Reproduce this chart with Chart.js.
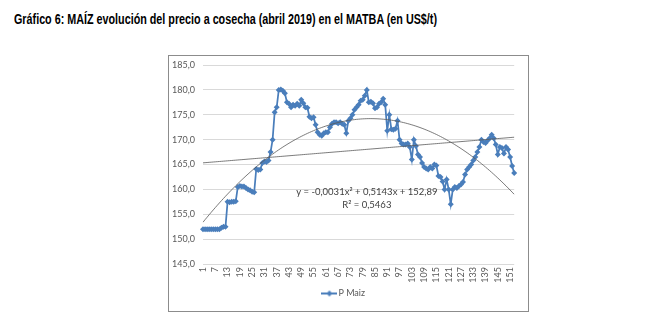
<!DOCTYPE html>
<html>
<head>
<meta charset="utf-8">
<script src="https://cdn.jsdelivr.net/npm/chart.js@4.4.1/dist/chart.umd.min.js"></script>
<style>
  body { margin: 0; background: #fff; }
  #title {
    position: absolute; left: 14px; top: 11px;
    font: bold 14px "Liberation Sans Narrow", "Liberation Sans", Arial, sans-serif;
    color: #000; white-space: nowrap; transform-origin: left top;
  }
  #box {
    position: absolute; left: 168px; top: 55px; width: 361px; height: 257px;
    border: 1px solid #8c8c8c; box-sizing: border-box; background: #fff;
  }
</style>
</head>
<body>
<div id="title">Gráfico 6: MAÍZ evolución del precio a cosecha (abril 2019) en el MATBA (en US$/t)</div>
<div id="box"><canvas id="chart"></canvas></div>
<script>
// precio diario del maiz cosecha abril 2019 (US$/t)
const precio = [
  152.0, 152.0, 152.0, 152.0, 152.0, 152.0, 152.0, 152.0, 152.0, 152.3,
  152.5, 152.5, 157.5, 157.4, 157.5, 157.5, 157.6, 160.5, 160.7, 160.6,
  160.6, 160.3, 160.0, 159.8, 159.5, 159.4, 164.1, 163.9, 164.0, 165.3,
  165.6, 165.5, 165.8, 167.5, 170.0, 175.5, 176.5, 180.0, 180.1, 179.8,
  179.3, 177.5, 177.2, 176.5, 177.0, 176.8, 177.2, 176.8, 178.0, 177.3,
  176.5, 176.4, 174.6, 174.3, 174.5, 173.0, 171.5, 171.0, 170.8, 171.3,
  171.5, 171.5, 172.5, 173.2, 173.5, 173.5, 173.3, 173.5, 173.2, 173.0,
  171.3, 173.8, 174.3, 175.0, 176.0, 176.5, 177.0, 177.8, 178.0, 178.8,
  180.0, 177.5, 177.6, 177.3, 176.3, 176.5, 177.2, 177.5, 178.2, 177.0,
  171.8, 175.0, 172.1, 172.0, 172.2, 173.8, 170.0, 169.2, 169.0, 169.0,
  169.2, 168.5, 166.0, 170.0, 168.7, 167.0, 166.5, 165.3, 164.5, 164.2,
  164.0, 164.5, 164.2, 165.0, 164.8, 162.7, 162.5, 161.6, 160.0, 162.0,
  160.0, 157.0, 160.0, 160.5, 160.3, 160.7, 161.0, 161.5, 163.0, 164.0,
  164.5, 165.0, 165.8, 166.5, 167.5, 168.5, 170.0, 169.5, 169.3, 169.8,
  170.3, 171.0, 170.3, 169.0, 167.0, 168.5, 168.3, 167.2, 168.5, 168.0,
  166.5, 164.7, 163.3
];
const dias = precio.map((_, i) => String(i + 1));

// coeficientes de la tendencia polinomica que muestra el grafico
const poly = [152.89, 0.5143, -0.0031];
const polyLabel = 'y = -0,0031x² + 0,5143x + 152,89';
const r2Label = 'R² = 0,5463';

const yMin = 145, yMax = 185, yStep = 5;

// el titulo del original es una fuente angosta: se ajusta al ancho
const title = document.getElementById('title');
title.style.transform = 'scaleX(' + (423 / title.getBoundingClientRect().width) + ')';

// tendencia lineal por minimos cuadrados
function linearFit(ys) {
  const n = ys.length;
  let sx = 0, sy = 0, sxx = 0, sxy = 0;
  ys.forEach((y, i) => {
    const x = i + 1;
    sx += x; sy += y; sxx += x * x; sxy += x * y;
  });
  const b = (n * sxy - sx * sy) / (n * sxx - sx * sx);
  const a = (sy - b * sx) / n;
  return dias.map((_, i) => a + b * (i + 1));
}

const polyTrend = dias.map((_, i) => {
  const x = i + 1;
  return poly[0] + poly[1] * x + poly[2] * x * x;
});
const linTrend = linearFit(precio);

const blue = '#4a7ebb';

// icono de leyenda: linea con rombo
const legendIcon = document.createElement('canvas');
legendIcon.width = 16; legendIcon.height = 8;
(function () {
  const c = legendIcon.getContext('2d');
  c.strokeStyle = blue; c.lineWidth = 2;
  c.beginPath(); c.moveTo(0, 4); c.lineTo(16, 4); c.stroke();
  c.fillStyle = blue;
  c.beginPath(); c.moveTo(8, 1); c.lineTo(11, 4); c.lineTo(8, 7); c.lineTo(5, 4); c.closePath(); c.fill();
})();

const trendText = {
  id: 'trendText',
  afterDatasetsDraw(chart) {
    const { ctx, scales } = chart;
    const x = scales.x.getPixelForValue(80);
    ctx.save();
    ctx.font = '9.5px Lato, sans-serif';
    ctx.fillStyle = '#404040';
    ctx.textAlign = 'center';
    ctx.textBaseline = 'middle';
    ctx.fillText(polyLabel, x, scales.y.getPixelForValue(159.4));
    ctx.fillText(r2Label, x, scales.y.getPixelForValue(156.8));
    ctx.restore();
  }
};

Chart.defaults.font.family = 'Lato, sans-serif';
Chart.defaults.color = '#595959';

new Chart(document.getElementById('chart'), {
  type: 'line',
  data: {
    labels: dias,
    datasets: [
      {
        label: 'Polinómica',
        data: polyTrend,
        borderColor: '#595959',
        borderWidth: 0.8,
        pointRadius: 0,
        order: 0
      },
      {
        label: 'Lineal',
        data: linTrend,
        borderColor: '#595959',
        borderWidth: 0.8,
        pointRadius: 0,
        order: 0
      },
      {
        label: 'P Maiz',
        data: precio,
        borderColor: blue,
        backgroundColor: blue,
        borderWidth: 1.75,
        pointStyle: 'rectRot',
        pointRadius: 3,
        pointBorderWidth: 0,
        order: 1
      }
    ]
  },
  options: {
    responsive: true,
    maintainAspectRatio: false,
    animation: false,
    layout: { padding: { top: 9, right: 7, left: 0, bottom: 3 } },
    elements: { line: { tension: 0 } },
    scales: {
      x: {
        offset: false,
        grid: { display: false, drawTicks: false },
        border: { display: false },
        afterFit: s => { s.height = 20; },
        ticks: {
          autoSkip: false,
          minRotation: 90,
          maxRotation: 90,
          padding: 3,
          font: { size: 9 },
          callback: (v, i) => (i % 6 === 0 ? dias[i] : '')
        }
      },
      y: {
        min: yMin,
        max: yMax,
        afterFit: s => { s.width = 34; s.paddingTop = 0; },
        grid: { color: '#d9d9d9', drawTicks: false },
        border: { display: false },
        ticks: {
          stepSize: yStep,
          padding: 8,
          font: { size: 9 },
          callback: v => v.toFixed(1).replace('.', ',')
        }
      }
    },
    plugins: {
      tooltip: { enabled: false },
      legend: {
        position: 'bottom',
        labels: {
          filter: item => item.text === 'P Maiz',
          usePointStyle: true,
          pointStyle: legendIcon,
          font: { size: 9 },
          padding: 5
        }
      }
    }
  },
  plugins: [trendText]
});
</script>
</body>
</html>
